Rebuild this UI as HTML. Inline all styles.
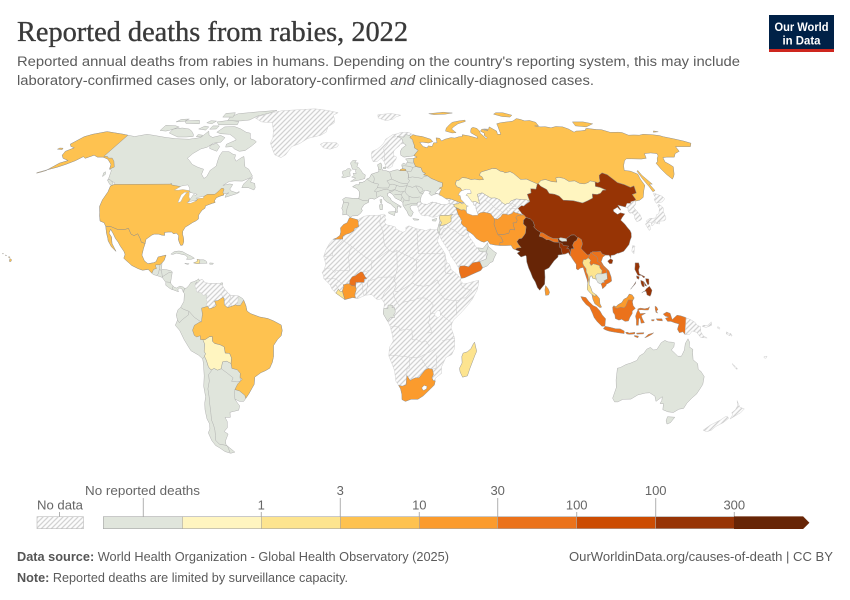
<!DOCTYPE html>
<html><head><meta charset="utf-8">
<style>
html,body{margin:0;padding:0;background:#fff;}
body{width:850px;height:600px;position:relative;overflow:hidden;}
svg{position:absolute;left:0;top:0;}
</style></head><body>
<svg id="m" width="850" height="600" viewBox="0 0 850 600" xmlns="http://www.w3.org/2000/svg">
<defs>
<pattern id="h" patternUnits="userSpaceOnUse" width="5" height="5">
<rect width="5" height="5" fill="#fcfcfc"/>
<path d="M-1,1L1,-1M0,5L5,0M4,6L6,4" stroke="#d2d2d2" stroke-width="1.3"/>
</pattern>
</defs>
<g id="g"></g>

<!-- Title & subtitle -->
<text x="17" y="41" font-family="Liberation Serif, serif" font-size="28" fill="#3a3a3a" stroke="#3a3a3a" stroke-width="0.35" textLength="391" lengthAdjust="spacingAndGlyphs">Reported deaths from rabies, 2022</text>
<text x="17" y="66" font-family="Liberation Sans, sans-serif" font-size="14.2" fill="#5b5b5b" textLength="723" lengthAdjust="spacingAndGlyphs">Reported annual deaths from rabies in humans. Depending on the country's reporting system, this may include</text>
<text x="17" y="85" font-family="Liberation Sans, sans-serif" font-size="14.2" fill="#5b5b5b" textLength="577" lengthAdjust="spacingAndGlyphs">laboratory-confirmed cases only, or laboratory-confirmed <tspan font-style="italic">and</tspan> clinically-diagnosed cases.</text>

<!-- Logo -->
<rect x="769" y="15" width="65" height="35" fill="#002147"/>
<rect x="769" y="49" width="65" height="3" fill="#ce261e"/>
<text x="801.5" y="31" text-anchor="middle" font-family="Liberation Sans, sans-serif" font-size="11.5" font-weight="bold" fill="#fff" textLength="54" lengthAdjust="spacingAndGlyphs">Our World</text>
<text x="801.5" y="44.5" text-anchor="middle" font-family="Liberation Sans, sans-serif" font-size="11.5" font-weight="bold" fill="#fff" textLength="38" lengthAdjust="spacingAndGlyphs">in Data</text>

<!-- Legend -->
<g font-family="Liberation Sans, sans-serif" font-size="13" fill="#666">
<text x="85" y="495" textLength="115" lengthAdjust="spacingAndGlyphs">No reported deaths</text>
<text x="37" y="509.3" textLength="46" lengthAdjust="spacingAndGlyphs">No data</text>
<text x="261.3" y="509.3" text-anchor="middle">1</text>
<text x="340.3" y="495" text-anchor="middle">3</text>
<text x="419.3" y="509.3" text-anchor="middle">10</text>
<text x="497.7" y="495" text-anchor="middle">30</text>
<text x="576.7" y="509.3" text-anchor="middle">100</text>
<text x="655.7" y="495" text-anchor="middle">100</text>
<text x="734.3" y="509.3" text-anchor="middle">300</text>
</g>
<g stroke="#b0b0b0" stroke-width="1">
<line x1="143.3" y1="498" x2="143.3" y2="516.7"/>
<line x1="59.5" y1="512" x2="59.5" y2="516.7"/>
<line x1="261.3" y1="512" x2="261.3" y2="516.7"/>
<line x1="340.3" y1="498" x2="340.3" y2="516.7"/>
<line x1="419.3" y1="512" x2="419.3" y2="516.7"/>
<line x1="497.7" y1="498" x2="497.7" y2="516.7"/>
<line x1="576.7" y1="512" x2="576.7" y2="516.7"/>
<line x1="655.7" y1="498" x2="655.7" y2="516.7"/>
<line x1="734.3" y1="512" x2="734.3" y2="516.7"/>
</g>
<rect x="37" y="516.7" width="46.5" height="12" fill="url(#h)" stroke="#bbb" stroke-width=".6"/>
<g stroke="#a5a5a5" stroke-width=".6">
<rect x="103.3" y="516.7" width="79" height="12" fill="#e0e5dc"/>
<rect x="182.3" y="516.7" width="79" height="12" fill="#fff5c0"/>
<rect x="261.3" y="516.7" width="79" height="12" fill="#fde48f"/>
<rect x="340.3" y="516.7" width="79" height="12" fill="#fec250"/>
<rect x="419.3" y="516.7" width="78.4" height="12" fill="#fb9b2d"/>
<rect x="497.7" y="516.7" width="79" height="12" fill="#eb721b"/>
<rect x="576.7" y="516.7" width="79" height="12" fill="#cc4c02"/>
<rect x="655.7" y="516.7" width="78.6" height="12" fill="#973405"/>
</g>
<path d="M734.3,516.7H803L809,522.7L803,528.7H734.3Z" fill="#672506" stroke="#672506" stroke-width=".6"/>

<!-- Footer -->
<text x="17" y="561" font-family="Liberation Sans, sans-serif" font-size="12.6" fill="#5b5b5b" textLength="432" lengthAdjust="spacingAndGlyphs"><tspan font-weight="bold" fill="#555">Data source:</tspan> World Health Organization - Global Health Observatory (2025)</text>
<text x="569" y="561" font-family="Liberation Sans, sans-serif" font-size="12.6" fill="#5b5b5b" textLength="264" lengthAdjust="spacingAndGlyphs">OurWorldinData.org/causes-of-death | CC BY</text>
<text x="17" y="582" font-family="Liberation Sans, sans-serif" font-size="12.6" fill="#5b5b5b" textLength="331" lengthAdjust="spacingAndGlyphs"><tspan font-weight="bold" fill="#555">Note:</tspan> Reported deaths are limited by surveillance capacity.</text>
</svg>

<script>
(function(){
const XT=[1,0.9986,0.9954,0.99,0.9822,0.973,0.96,0.9427,0.9216,0.8962,0.8679,0.835,0.7986,0.7597,0.7186,0.6732,0.6213,0.5722,0.5322];
const YT=[0,0.062,0.124,0.186,0.248,0.31,0.372,0.434,0.4958,0.5571,0.6176,0.6769,0.7346,0.7903,0.8435,0.8936,0.9394,0.9761,1];
function P(lon,lat){const a=Math.min(Math.abs(lat),89.999)/5,i=Math.floor(a),f=a-i;const X=XT[i]+(XT[i+1]-XT[i])*f,Y=YT[i]+(YT[i+1]-YT[i])*f;return [362+2.30*X*lon,311-(lat<0?-1:1)*209.5*Y];}
function D(s,close){const pts=s.trim().split(/\s+/).map(p=>p.split(',').map(Number));return 'M'+pts.map(p=>{const q=P(p[0],p[1]);return q[0].toFixed(1)+','+q[1].toFixed(1);}).join('L')+(close?'Z':'');}
const G=document.getElementById('g');const NS='http://www.w3.org/2000/svg';
function add(s,fill,stroke,sw){const e=document.createElementNS(NS,'path');e.setAttribute('d',D(s,true));e.setAttribute('fill',fill);e.setAttribute('stroke',stroke||'#aaa');e.setAttribute('stroke-width',sw||0.45);e.setAttribute('stroke-linejoin','round');G.appendChild(e);}
function line(s,stroke,sw){const e=document.createElementNS(NS,'path');e.setAttribute('d',D(s,false));e.setAttribute('fill','none');e.setAttribute('stroke',stroke||'#aaa');e.setAttribute('stroke-width',sw||0.45);e.setAttribute('stroke-linejoin','round');G.appendChild(e);}
const H='url(#h)',GR='#e0e5dc',C1='#fff5c0',C2='#fde48f',C3='#fec250',C4='#fb9b2d',C5='#eb721b',C7='#973405',C8='#672506',W='#ffffff';
const SH='#cdcdcd',SG='#a9a9a9',SC='#8c8c8c';

// North America base
add("-168,65.6 -166,68.9 -163,70 -156.8,71.3 -152,70.8 -145,70.1 -141,69.6 -136,69 -130,70 -125,69.5 -117,68.6 -110,68 -102,67.8 -96,68.5 -94.5,71.5 -92,69.5 -89,68.6 -85,69.5 -81.5,68.5 -82,66.5 -86,66 -88,64.2 -90.8,63.5 -93.5,61.5 -94.6,59.5 -93,58.7 -90,57 -86,55.8 -82.5,55 -82.2,53 -80,51.3 -79,52 -78.8,54.5 -76.8,56.3 -77.5,58.4 -78,60.5 -77.8,62.3 -74,62.3 -71,61.2 -69.5,61 -69,59.5 -67.5,58.3 -65.5,59.8 -64.5,60.3 -62.5,57.5 -61.5,56 -59,55 -57.3,53.5 -55.8,52.2 -57,51.4 -60,50.2 -64,50.3 -66.5,50.1 -69,48.5 -66,49.1 -64.3,48.9 -64.6,47.8 -65,47.1 -64,46.3 -61,45.6 -60,46.1 -59.9,45.7 -61,45.2 -63.5,44.5 -66,43.8 -65.9,45 -64.8,45.6 -67.1,45.1 -67,44.7 -68.5,44.3 -70,43.7 -70.6,42.6 -70,41.8 -71.2,41.5 -72,41.2 -73.8,40.6 -74,40.5 -74,39.5 -75,38.9 -75.5,38 -75.9,37.2 -76,36.8 -75.6,35.4 -76.5,34.7 -77.8,34.1 -79,33.3 -80.7,32.3 -81.4,30.7 -81.2,29.6 -80.5,28.3 -80,26.8 -80.2,25.4 -81,25.2 -81.8,26.2 -82.6,27.5 -82.8,29 -84,30 -85.3,29.7 -86.3,30.4 -88,30.4 -89.5,30.2 -89.2,29.1 -90.5,29.2 -92,29.6 -94,29.6 -95,29.2 -97.2,27.6 -97.2,26 -97.5,24 -97.7,21.5 -96.2,19.3 -94.5,18.2 -92,18.6 -91,19 -90.4,20.8 -87,21.5 -87.5,19.5 -88.3,18.5 -88.2,16 -86,15.9 -84,15.5 -83.3,15 -83.7,11 -83.4,10.4 -82,9.2 -81,8.8 -79.5,9.6 -78,9.2 -77.4,8.7 -77.9,7.2 -78.4,8.3 -79.5,8.9 -80.4,8.2 -80,7.4 -81,7.7 -82.5,8.2 -83.7,8.6 -85.7,9.9 -85.8,11 -87.5,12.9 -89.5,13.5 -91.5,14 -92.2,14.5 -94,16 -96.5,15.7 -98.5,16.3 -101.5,17.5 -105.5,20.3 -105.2,21.8 -106,23 -108,25 -109.4,26.5 -111,27.9 -112.8,30 -114.5,31.5 -114.6,30 -113,28.5 -112,26 -110.5,24.2 -109.5,23 -110.3,23.5 -112,24.8 -114,27 -114.5,28 -115.7,30 -117.1,32.5 -118.5,34 -120.6,34.6 -121.9,36.6 -122.5,37.8 -124,40.3 -124.4,42.8 -124,46 -124.6,48.3 -123,48.9 -123.5,49.5 -125,50 -128,51 -130,54.5 -131.5,55 -133,57 -136,58.5 -137.5,59.2 -141,60 -144,60 -147,60.8 -150,59.5 -152,60.2 -154,58.5 -157,57 -160,55.8 -163.5,54.8 -161,57.5 -158,58.6 -162,59.5 -164.5,60.8 -165.5,62.5 -163,64 -166,64.6",GR,SG);
// Canadian islands
["-61.5,66.6 -63,64.8 -65.5,62.8 -68.5,62.5 -72,63.5 -74,64.5 -77.5,64.3 -78,65.5 -74,67.5 -76,68.5 -80,70 -86,70.3 -89,71 -87,73.5 -81,73.7 -76,72.6 -71,71 -68,70.5 -67,69.2 -66,68 -63,67.3",
"-101,69 -105,68.8 -110,68.8 -115,70 -117.5,70.6 -118,72.5 -113,73 -108,72.5 -105,71.5 -102,70",
"-121,71.5 -125,71.8 -125.5,74.3 -119,74.1 -115.5,73.4 -119,72",
"-75,77 -80,76.5 -89,76.5 -90,78.5 -87,80.3 -75,81.5 -62,82.5 -65,81 -72,79",
"-80,74.5 -92,74.5 -95,76 -88,76.8 -81,76.2",
"-81,62.5 -86,63.7 -87,65 -84,66 -81,64.5",
"-97,72 -102,72.5 -100,73.9 -97,73.5",
"-91,72.5 -95,72.4 -95,74 -91,74",
"-105,75 -114,75.2 -117,76.5 -108,76.8",
"-88,78.5 -95,78.5 -96,80.5 -90,81",
"-97,75 -101,75.5 -100,76.6 -96,76.4",
"-117,76.3 -122,76 -121,77.3 -116,77.5",
"-96,68.8 -99,68.9 -99,69.9 -96,69.6",
"-59.3,47.6 -56,47.6 -53,46.7 -52.7,47.6 -53.5,49.3 -55.8,49.8 -55.5,51.6 -57,51.2 -59,49",
"-123.3,48.3 -125.5,48.9 -128.3,50.7 -127,50.8 -124.5,49.6",
"-132,52 -133,53.5 -132.5,54 -131.5,53"].forEach(s=>add(s,GR,SG));
// Greenland & Iceland
add("-73,78.3 -66,76 -58.5,75.5 -55,72 -53,68.5 -53,66 -50,63 -48,61 -44,59.8 -42,61 -40,64.5 -36,65.8 -32,68.2 -25,69.5 -22,71 -21.5,73.5 -18,75.5 -18.5,77.5 -20,79.5 -17,81 -25,82.5 -35,83.5 -45,83 -58,82.3 -65,80.8 -68,79.5 -72,78.7",H,SH);
add("-24,65.5 -22,64 -18,63.4 -14,64.4 -13.5,65.3 -15,66.3 -18,66.2 -22,66.4",H,SH);
// US, Alaska, Mexico
add("-123,48.9 -95.2,49 -95.2,49.4 -94.6,48.7 -89.5,48 -84.8,46.5 -84,46 -82.5,45.3 -82.4,43 -83,42 -82.5,41.7 -79,42.8 -79,43.4 -76.5,44.1 -75,45 -71.5,45 -71,45.3 -70,46.4 -69.2,47.4 -68.2,47.3 -67.8,47 -67.8,45.7 -67.1,45.1 -67,44.7 -68.5,44.3 -70,43.7 -70.6,42.6 -70,41.8 -71.2,41.5 -72,41.2 -73.8,40.6 -74,40.5 -74,39.5 -75,38.9 -75.5,38 -75.9,37.2 -76,36.8 -75.6,35.4 -76.5,34.7 -77.8,34.1 -79,33.3 -80.7,32.3 -81.4,30.7 -81.2,29.6 -80.5,28.3 -80,26.8 -80.2,25.4 -81,25.2 -81.8,26.2 -82.6,27.5 -82.8,29 -84,30 -85.3,29.7 -86.3,30.4 -88,30.4 -89.5,30.2 -89.2,29.1 -90.5,29.2 -92,29.6 -94,29.6 -95,29.2 -97.2,27.6 -97.2,26 -99,26.5 -100,28 -101.5,29.7 -103,29 -104.5,29.6 -106.5,31.8 -108.2,31.3 -111,31.3 -114.8,32.5 -117.1,32.5 -118.5,34 -120.6,34.6 -121.9,36.6 -122.5,37.8 -124,40.3 -124.4,42.8 -124,46 -124.6,48.3",C3,SC);
add("-141,69.6 -145,70.1 -152,70.8 -156.8,71.3 -163,70 -166,68.9 -168,65.6 -166,64.6 -163,64 -165.5,62.5 -164.5,60.8 -162,59.5 -158,58.6 -161,57.5 -163.5,54.8 -160,55.8 -157,57 -154,58.5 -152,60.2 -150,59.5 -147,60.8 -144,60 -141,60 -137.5,59.2 -136,58.5 -133,57 -131.5,55 -130,55.9 -133,58.3 -135.5,59.6 -137.5,59.6 -139,60.3 -141,60.3",C3,SC);
add("-163.5,54.8 -165.5,54.2 -167.5,53.6 -167.3,53.4 -165.3,53.9 -163.6,54.5",C3,SC);
add("-169,63.8 -168.5,63.2 -171.5,63.4 -171,63.9",C3,SC);
add("-155.9,20.2 -155,19.7 -155.2,19 -155.9,19.1",C3,SC);
add("-156.7,20.9 -156,20.8 -156.2,20.5 -156.6,20.6",C3,SC);
add("-158.3,21.6 -157.7,21.3 -158.1,21.3",C3,SC);
add("-159.8,22.2 -159.3,22.1 -159.5,21.9",C3,SC);
add("-117.1,32.5 -114.8,32.5 -111,31.3 -108.2,31.3 -106.5,31.8 -104.5,29.6 -103,29 -101.5,29.7 -100,28 -99,26.5 -97.2,26 -97.5,24 -97.7,21.5 -96.2,19.3 -94.5,18.2 -92,18.6 -91,19 -90.4,20.8 -87,21.5 -87.5,19.5 -88.3,18.5 -89.1,17.8 -91,17.8 -91,17.2 -90.4,16.4 -91.7,16 -92.2,14.5 -94,16 -96.5,15.7 -98.5,16.3 -101.5,17.5 -105.5,20.3 -105.2,21.8 -106,23 -108,25 -109.4,26.5 -111,27.9 -112.8,30 -114.5,31.5 -114.6,30 -113,28.5 -112,26 -110.5,24.2 -109.5,23 -110.3,23.5 -112,24.8 -114,27 -114.5,28 -115.7,30",C3,SC);
// Great lakes
["-92,46.7 -90,46.6 -88,46.9 -85,46.5 -84.5,46.6 -85,47.5 -86.5,48.7 -89.3,48.3 -90.5,47.6",
"-87.8,42.3 -87.5,41.7 -86.5,42.2 -86.3,43.8 -85.5,45.5 -85,45.8 -86.5,45.8 -87.6,44.8",
"-84.5,45.9 -82.5,45.5 -80,45 -80.5,44.6 -81.7,44.9 -82.5,43 -83.5,44 -84,45.4",
"-83.4,41.7 -81.5,41.5 -79,42.6 -80.5,42.6 -83,42",
"-79.8,43.3 -76.3,43.5 -76.5,44.2 -79.5,43.7"].forEach(s=>add(s,W,SG,0.4));
// Central America borders
line("-88.3,18.5 -89.1,17.8 -89.2,15.9 -88.2,15.7","#aaa");
line("-89.2,15.9 -89.3,14.4 -90.1,13.7","#aaa");
line("-88.2,15.7 -87.7,13.9 -87.5,12.9","#aaa");
line("-83.3,15 -84.8,14.8 -87.5,13.2","#aaa");
line("-83.7,11 -85.7,11.2","#aaa");
line("-82.5,9.6 -82.9,8.1","#aaa");
// Caribbean
add("-84.9,21.9 -83.5,22.9 -81.5,23.1 -80,22.9 -77.5,21.8 -75.7,21.1 -74.2,20.3 -75.7,19.9 -77.7,19.9 -77.2,20.6 -78.5,21.5 -81,22 -82.5,22.3 -84,21.8",GR,SG);
add("-78.3,18.4 -76.3,18.2 -76.8,17.9 -78,18.2",GR,SG);
add("-74.4,18.5 -72.7,18.2 -71.7,18.3 -71.7,19.7 -73,19.9 -72.8,19.1",C2,SC);
add("-71.7,18.3 -68.4,18.4 -68.9,19.2 -70,19.7 -71.7,19.7",GR,SG);
add("-67.2,18.5 -65.6,18.4 -65.8,18 -67.2,18",GR,SG);
add("-61.7,10.8 -60.9,10.8 -61,10.1 -61.9,10.1",GR,SG);
// South America
add("-77.4,8.7 -76.5,8.9 -75.6,9.8 -74.8,11 -73.5,11.3 -72.2,11.9 -71.5,12.4 -71.2,11.7 -70,12.2 -68.5,10.8 -66,10.6 -64,10.6 -62.5,10.7 -61,9.8 -60,8.5 -58.5,7 -57.2,6 -55,5.9 -53.9,5.8 -52,4.8 -51.5,4.2 -50.5,2 -50,0 -48.5,-1 -44.5,-2.3 -41,-2.9 -38.5,-3.8 -35.2,-5.4 -34.8,-7.5 -35.3,-9.5 -37,-11 -38.8,-13.3 -39,-17.5 -39.7,-19.8 -41,-22 -43,-23 -45,-23.7 -48,-25.5 -48.6,-28.2 -50,-30 -51.5,-31.8 -53.4,-33.7 -54.5,-34.8 -56.5,-34.8 -58.4,-33.9 -57.5,-35.5 -56.8,-36.5 -57.7,-38.2 -62,-39 -62.5,-41 -65,-41 -64.5,-42.5 -65.3,-45 -67.5,-46.5 -66,-47.5 -68.5,-50.2 -69,-51.6 -68.4,-52.4 -66,-54.7 -68.5,-55.2 -71,-54.5 -73,-53 -74.5,-52 -75.3,-50 -75.5,-47 -74,-45.5 -73.3,-43.5 -73.8,-41.5 -73.4,-38 -72.7,-35.5 -71.6,-33 -71.5,-29 -70.5,-25 -70.2,-20 -70.4,-18.4 -72,-17 -75.2,-15.3 -76.3,-13.5 -77.8,-11 -79.5,-7.5 -81.3,-5.5 -80.3,-3.5 -80.8,-1.5 -80,0.5 -78.9,1.4 -77.5,3.7 -77.4,6.7 -77.9,7.2",GR,SG);
add("-72.3,11.2 -71.5,11 -71.2,11.7 -70,12.2 -68.5,10.8 -66,10.6 -64,10.6 -62.5,10.7 -61,9.8 -60,8.5 -60.7,7.5 -61.2,6.6 -60.7,5.2 -62.8,4 -64.2,3.8 -63.4,2.2 -64.2,1.5 -66.3,0.8 -67.2,1.8 -67.8,2.8 -67.3,3.3 -67.8,4.5 -67.5,6.2 -69.3,6.1 -70.1,7 -72,7.3 -72.4,8.4 -73,9.7 -72.8,10.4",H,SH);
add("-60,8.5 -58.5,7 -57.2,6 -57.3,5 -58,4 -56.5,1.9 -58.5,1.3 -59.9,2.4 -60.1,5 -60.7,5.2 -61.2,6.6 -60.7,7.5",H,SH);
add("-57.2,6 -55,5.9 -53.9,5.8 -54.1,2.1 -55,2.4 -56.5,1.9 -58,4 -57.3,5",H,SH);
add("-51.5,4.2 -50.5,2 -50,0 -48.5,-1 -44.5,-2.3 -41,-2.9 -38.5,-3.8 -35.2,-5.4 -34.8,-7.5 -35.3,-9.5 -37,-11 -38.8,-13.3 -39,-17.5 -39.7,-19.8 -41,-22 -43,-23 -45,-23.7 -48,-25.5 -48.6,-28.2 -50,-30 -51.5,-31.8 -53.4,-33.7 -53.5,-32.5 -55.6,-30.8 -57.6,-30.2 -56,-28.1 -54.6,-27 -53.7,-26.2 -54.6,-25.6 -54.3,-24 -55.5,-22.6 -57.8,-22.1 -58,-20.2 -57.6,-18.1 -58.3,-16.3 -60.2,-16.2 -60.5,-13.8 -62.2,-13 -64.5,-12.5 -65.4,-11.7 -65.4,-9.8 -66.6,-9.9 -68.7,-11.1 -70.6,-11 -70.6,-9.5 -72.2,-10 -73.2,-9.4 -73.9,-7.4 -73,-5.5 -70.5,-4.2 -69.9,-4.2 -69.4,-1.2 -69.8,1.1 -67.2,1.8 -66.3,0.8 -64.2,1.5 -63.4,2.2 -64.2,3.8 -62.8,4 -60.7,5.2 -60.1,5 -59.9,2.4 -58.5,1.3 -56.5,1.9 -55,2.4 -54.1,2.1 -52.9,2.2",C3,SC);
add("-69.6,-11 -68.7,-11.1 -66.6,-9.9 -65.4,-9.8 -65.4,-11.7 -64.5,-12.5 -62.2,-13 -60.5,-13.8 -60.2,-16.2 -58.3,-16.3 -57.6,-18.1 -58,-20.2 -59.9,-19.3 -61.7,-19.6 -62.6,-22.2 -64.3,-22.8 -65.7,-22.1 -67.2,-22.7 -68.2,-21.5 -68.7,-19.4 -69.1,-18.2 -69.5,-17.5 -68.9,-16.4 -69.4,-15.6 -68.9,-12.9",C1,SC);
["-69.9,-4.2 -70.7,-3.8 -73,-2.4 -75.2,-0.1 -77.5,0.6 -78.9,1.4",
"-75.2,-0.1 -75.5,-1.5 -78.3,-3.4 -79.5,-4.5 -80.3,-3.5",
"-70.4,-18.4 -69.5,-17.5",
"-68.2,-21.5 -67,-23 -68.5,-24.5 -68.6,-27 -69.8,-30 -70,-33 -70.5,-36 -71,-39 -71.8,-42 -71.6,-44 -71.8,-46 -72.5,-48 -73.3,-50 -72.3,-51.5 -69,-52 -68.6,-52.6 -68.6,-54.9",
"-54.6,-25.6 -54.6,-27 -56,-27.3 -58.6,-27.1 -57.7,-25.7 -60,-24 -62.6,-22.2",
"-58.4,-33.9 -58.1,-32 -57.6,-30.2",
"-72.3,11.2 -72.8,10.4",
"-52.9,2.2 -51.5,4.2"].forEach(s=>line(s,SG));

// Africa
add("-5.9,35.8 -2,35.1 1,36.5 3.5,36.8 8,36.9 10.2,37.3 11,36.8 10.5,36 11.1,35.2 10.2,34.2 11.5,33.1 13,32.9 15.3,32.3 15.6,31.5 18.5,30.3 20,30.9 20,32.2 21.5,32.8 23.2,32.2 25.2,31.6 27.5,31.3 29,30.9 31,31.6 32.3,31.3 34.2,31.3 34.9,29.5 34.3,27.8 33.8,27.2 34.5,25.5 35.7,23.9 36.9,22 37.4,18.8 38.6,18 39.3,15.8 41.2,14.5 43.3,12.5 43.1,11.5 44.5,10.4 46.6,10.8 48.9,11.4 51.1,11.8 51,10.5 50.2,8 48,4.5 46,2.2 43.5,-0.3 41.8,-1.8 40,-3.3 39.2,-4.7 38.8,-6.5 39.5,-8 40.5,-10.5 40.6,-14.5 39.5,-16.8 37,-17.9 35.3,-21.5 35.5,-24 32.9,-25.9 32.6,-28.5 31,-30 28,-32.7 25.7,-34 22.5,-34 20,-34.8 18.4,-34.1 18.2,-32.2 17.5,-30 16.4,-28.5 15.2,-27 14.5,-23 13.6,-21 11.8,-17.3 12,-14 13.7,-11.5 13.2,-9 12.3,-6.1 12.2,-5.8 11.1,-3.9 9.3,-1.2 9.5,1 9.8,3 9,4 8.5,4.7 6.7,4.3 5.3,5.4 4.3,6.3 1.5,6.1 -2,4.7 -4,5.2 -7.5,4.4 -9.2,5.5 -11.4,6.9 -13.2,8.5 -13.7,9.8 -15,11 -16.7,12.4 -16.9,13.8 -17.5,14.7 -16.5,16.2 -16,18 -16.5,19.6 -17,21 -16,23.7 -14.5,26.1 -13,27.6 -11.5,28.1 -10,29.1 -9.6,30.4 -9.8,32 -8.5,33.3 -6.8,34",H,SH);
["8.6,36.9 8.2,34 9.5,30.2 10,25.5 12,23.5",
"25,31.6 25,22 36.9,22",
"12,23.5 14,22.5 15.5,23.3 24,19.5 25,20",
"-8.7,27.7 -8.7,27.3 -4.8,25 1,21 4.3,19.2 5.8,19.5 12,23.5",
"-17,21 -13,21.3 -13,23 -8.7,27.3",
"-12,14.8 -11.5,15.5 -5.5,15.5 -5.5,16.5 -6,21 -4.8,25",
"-16.5,16.2 -14,16.6 -12,14.8",
"4.3,19.2 4,16 1,15 0.3,14.9",
"3.6,11.7 8,13 12.5,13.1 14.5,13 15.5,16 15.5,20.5 15.5,23.3",
"22,12.5 22.5,14 24,15.7 24,19.5",
"14.5,13 14,12 15,10 13.5,7 14.5,4.5 16,2.2",
"23.5,10 27,9.5 30,10 33,12 34,9.5",
"14.5,7.5 16,7.6 19,9 22,10.8 23.5,10",
"16,2.2 18.5,3.5 22.5,4.2 25,5 27.5,5 30,3.5 31,2.3",
"12.5,-6 16,-6 16.5,-7.5 19.5,-7 21.8,-7.3 22,-11 24,-11 26,-12 28,-11.5 29.5,-13.5",
"29,-4.5 29.6,-1.3 30,1 31,2.3",
"28.5,-8.5 30.5,-8.2 29,-4.5",
"39.2,-4.7 37.5,-3.5 33.9,-1 30,-1",
"33,8 36,4.5 40,4 41.9,4 43,5 45,5 47.9,8 44,9 43,11",
"36.9,22 36.5,15 37,14.3 38.5,14.5 40,14.6",
"41,-1.6 41,3.9",
"11.8,-17.3 13.5,-17 18.5,-17.5 23.5,-18 25.3,-17.8",
"20,-22 20,-24.8",
"21,-18 21,-22 20,-22",
"25.3,-17.8 28,-16.5 30.2,-15.6 33,-14 35,-12",
"26,-18 29,-22",
"33,-17 32.9,-22 31.3,-22.4",
"35,-11.5 40.5,-10.5",
"8.6,4.7 9.8,7 11.8,8.9 13,10.8 14.5,13",
"0,11 0.6,6.1","1.8,6.2 2.7,12 3.6,11.7",
"-11.5,12.4 -8,10.1","-13.7,9.8 -11.5,12.4 -16.7,12.4",
"-2.7,11 -5.5,10.4 -8.2,10.1",
"-11.4,6.9 -10.3,8.4 -11.3,10 -13.2,8.5"].forEach(s=>line(s,SH,0.5));
add("31.7,-1 33,0.3 34.1,-0.2 34,-1.9 33,-2.6 31.7,-1.8",W,SH);
add("-5.9,35.8 -5.3,35.9 -2,35.1 -1.8,34.5 -1.5,32.5 -3.5,31.7 -3.7,30.9 -5.5,30 -7.5,29.4 -8.7,28.7 -8.7,27.7 -13,27.6 -11.5,28.1 -10,29.1 -9.6,30.4 -9.8,32 -8.5,33.3 -6.8,34",C4,SC);
add("-5.5,10.4 -4.5,9.7 -2.8,9.6 -2.7,11 0,11 0.9,11 1,12.3 2.2,12.6 1.5,13 0.3,14.9 -0.5,15.1 -2,14.2 -3,13.5 -4.3,13.2 -5.3,11.8",C5,SC);
add("-8.6,7.7 -7.5,4.4 -4,5.2 -2.8,5 -3.2,6.2 -2.5,8.2 -2.8,9.6 -4.5,9.7 -5.5,10.4 -6.2,10.5 -7.5,10.2 -8.2,10.1 -8,9.4",C4,SC);
add("-11.4,6.9 -9.2,5.5 -7.5,4.4 -8.6,7.7 -9.4,7.4 -10.3,8.4",C2,SC);
add("9.5,1 11.3,1 11.3,2.3 13.3,2.2 13,1.3 14.2,1.3 14.5,-0.5 13.8,-1.5 14.2,-2.5 12.5,-2.4 11.1,-3.9 9.3,-1.2 9.3,0",GR,SG);
add("16.5,-28.6 17.5,-30 18.2,-32.2 18.4,-34.1 20,-34.8 22.5,-34 25.7,-34 28,-32.7 31,-30 32.6,-28.5 32.9,-26.9 32,-26.8 31.3,-25.7 31.9,-24.4 31.3,-22.4 29.4,-22.1 28,-22.8 26.5,-24.6 25.5,-25.7 24,-25.7 22.6,-26.2 21.7,-26.8 20,-24.8 19.9,-28.4 18.2,-28.9 17.4,-28.8",C4,SC);
add("27,-29.6 28,-28.6 29.4,-29 29.2,-30 28,-30.6 27.4,-30.2",W,SC);
add("49.3,-12 50.4,-15.5 49.8,-17 49.4,-18 48,-22 47.1,-25 45,-25.5 43.7,-23.5 43.3,-22 44.3,-20 44,-17.5 44.5,-16.2 46.3,-15.7 47.8,-14.5 48.8,-12.6",C2,SC);

// Eurasia base (hatched)
add("-9,37 -8.9,38.5 -9.5,39.5 -8.8,42 -9.3,43 -8,43.7 -4,43.4 -1.5,43.4 -1.3,44.5 -1.2,46 -2.5,47.3 -4.7,48 -3,48.8 -1.5,48.7 -1.3,49.7 0.2,49.7 1.5,50.2 2.5,51.1 3.8,51.5 4.8,53 6.8,53.5 8.8,54 8.6,55.5 8.2,56.8 10,57.6 10.5,56.5 10.2,55.5 10.9,54.4 12.5,54.4 14.3,53.9 16.5,54.5 18.5,54.8 19.8,54.4 21.2,55.2 21,56.8 22,57.5 23.5,57 24.4,58.3 23.5,59.2 26,59.5 28,59.5 30,60 28.5,60.6 25,60.2 22.8,60 21.3,60.8 21.5,62.5 22.5,63.7 25.3,65.1 24.2,65.8 22.2,65.6 21.2,64.7 19,63.5 17.8,62.6 17.2,61.3 17.5,60.6 18.8,60 18.3,59 16.6,57.6 16,56.2 14.2,55.4 12.9,55.5 12.5,56.3 11.8,58 11,59 10.5,59.5 9.5,59 8,58.1 6,58.1 5.3,59.3 5,61 5.6,62.4 8.5,63.4 10.5,64.5 12.5,66 14,67.8 16,68.7 18.5,69.8 21,70.2 23.5,70.8 26,71 28.5,70.9 30.5,70 33,69.3 36,69 40.5,67.8 41.2,66.7 38.5,66.1 35,66.5 33.5,66.3 34.8,64.5 37,64 37.8,64.8 40,64.6 41.5,66.2 43.5,66.2 44,68.4 46,68.2 46.5,67 49,67.8 53,68.5 55,68.3 58,68.9 60,69 60.5,69.8 64,69.3 67,68.6 68.5,68.2 69,69 66.5,70.7 67,71.5 68.5,72.8 70,73.3 72,72.8 72.5,71.5 72,70.5 73,69 73.5,68 74.5,68.5 73.5,69.5 74.5,70.5 73,71.5 75,72.5 76.5,71.8 78,71.8 76,72.5 79,72.4 80.5,73.5 83,71.5 82,70 84,70 86.5,74 87,75 90,75.5 95,76 99,76.3 101,76.8 104,77.7 106,77.3 107.5,76.5 111,76.7 113.5,75.8 112.5,74 110,74 113,73.5 116,73.6 119,73.1 123,73.7 127,73.5 129,72.5 130,71 132,71.5 135,71.6 139,72 139.5,72.5 141,72.8 146,72.3 149,72.2 152,70.9 157,71 159,70.8 160.5,69.6 164,69.7 167,69.6 170,70 175,69.8 178.8,69.4 180,68.9 184,68 188,67 190.3,66 187,64.5 182,64.5 178.5,64.5 177,62.5 173,61.5 170,60 166,60 163.5,59.8 162,58 163,57 163.5,56 162,54.8 160,53 158.5,52 156.7,51 156,53 155.8,55 156.5,57.5 158,58 160,59.5 162,60.5 163,61.5 160,61.8 156,61.5 154,59.5 151,59.2 146,59.3 143,59.3 141,58.5 138,56.5 136,54.5 139,54.2 141.4,53 140.5,51 140.3,48.5 138,46.5 135.5,43.8 133,42.7 131.5,42.5 130.7,42.3 129.7,41 128,40 129.4,37 129.3,35.5 128.5,35 126.5,34.4 126.2,35.5 126.8,37 126.1,37.8 125,37.7 124.7,38.5 125.3,39.5 124.4,40 122.3,40.5 121.2,40.8 121.5,39 121.2,38.8 120.5,40 119.5,39.6 118,39 117.8,38.3 119,37.2 120.7,37.8 122.5,37.4 120.5,36 119.3,35 120.5,33.5 121.2,32 121.8,31 121.9,30 121.5,28.5 120.5,27.2 119.5,25.6 118.2,24.5 116.5,23 114.2,22.3 113.5,22.2 112,21.6 110.5,21.4 110.2,20.3 109.7,21.5 108,21.5 106.7,20.7 105.7,19 106.5,17.5 108.5,15.5 109.2,13 109.2,11.5 108,10.8 106.8,10.3 106.5,9.7 105,8.6 104.8,9.5 104.5,10.4 103.5,10.6 102.6,12.2 100.9,12.7 100.9,13.5 100,13.4 99.2,10.3 99.8,9.2 100.4,7.3 101,6.9 102.2,6.2 103.4,4.8 103.5,2.8 104.2,1.5 103.5,1.3 101.3,2.8 100.5,4.5 100.2,6.4 99.6,6.8 98.3,8.2 98.5,9.9 98.7,10.7 98.6,12 98.3,13 97.8,14.9 97.4,16.8 96,16.5 95,15.8 94.3,16.3 94.5,18 93.5,19.5 92.6,20.7 92.3,21.4 91.8,22.5 90.5,22 89,21.8 87,21.5 86.9,20.8 85,19.4 82.3,16.6 80.3,15.8 80.2,13 79.8,10.3 78.4,8.9 77.5,8 76.6,9 75.8,11.2 74.8,12.8 74,15 73.4,16.5 72.8,19 72.9,21 72.6,21.4 70.5,20.8 69,22.3 70.3,22.9 68.4,23.6 67.4,24 66.7,25.3 64.5,25.2 61.6,25.2 59.5,25.4 57.3,25.8 56.4,27.1 54.8,26.5 53.5,26.8 51.5,27.9 50.3,29.3 48.9,30.3 48,29.9 48.4,28.5 49.5,27 50.2,26 50.8,24.7 51.6,24.3 52.5,24.2 54,24.1 55.5,25.5 56.3,26.3 56.4,24.9 57.8,23.7 58.8,22.9 59.8,22.3 58.5,20.4 57.8,19 56.6,18.6 55.3,17.4 53,16.6 52.2,15.6 49.5,14.6 48,14 45,12.8 43.5,12.6 42.8,14.8 42.7,16.3 41.2,18.8 39.5,21 38.9,22.8 37.5,24.8 35.7,27.5 34.9,29.5 34.3,31.3 35,32.8 35.9,35 35.9,35.9 36.2,36.6 35.5,36.6 34,36.2 32.5,36.1 30.6,36.7 29,36.6 27.5,37 26.5,38.5 26.6,39.5 26.2,40 26.1,40.8 24,40.8 23,40.4 22.6,40 23,39 24,38 23,36.5 22.3,36.5 21.7,36.9 21.1,38.3 20.2,39.5 19.4,40.7 19.5,41.8 18.5,42.5 16,43.5 14.8,45 13.6,45.7 12.3,45.3 12.5,44.2 13.6,43.5 14,42.6 16,41.5 18.5,40.2 18.3,39.8 17,40.5 16.5,39 16.6,38 15.7,38 15.8,39.5 14.8,40.2 13.7,41.2 12,41.9 10.5,43 10.2,43.9 8.8,44.4 7.5,43.8 6,43.1 4.5,43.4 3.1,43.1 3.2,41.9 1,41 0,39.8 -0.3,39.3 0.2,38.7 -0.7,37.6 -2.1,36.7 -4.5,36.6 -5.6,36 -6.3,36.8 -7.4,37.2",H,SH);
// Europe (grey)
add("28.1,59.5 27.6,58 27.8,57.3 28.2,56.1 30.9,55.6 31.3,53.9 32.7,53.3 31.5,52.8 33.5,52.3 35,51.3 37.5,50.4 38.3,50 40.1,49.6 39.7,48 38.2,47.5 38.2,47.1 37,46.5 35.5,45.5 36.5,45.3 35.3,45 33.5,44.5 32.5,45.4 33.6,46 31.7,46.5 30.8,46.6 29.7,45.3 28.7,44.4 27.9,42.7 28,41.9 27,42 26.3,41.7 26.1,40.8 24,40.8 23,40.4 22.6,40 23,39 24,38 23,36.5 22.3,36.5 21.7,36.9 21.1,38.3 20.2,39.5 19.4,40.7 19.5,41.8 18.5,42.5 16,43.5 14.8,45 13.6,45.7 12.3,45.3 12.5,44.2 13.6,43.5 14,42.6 16,41.5 18.5,40.2 18.3,39.8 17,40.5 16.5,39 16.6,38 15.7,38 15.8,39.5 14.8,40.2 13.7,41.2 12,41.9 10.5,43 10.2,43.9 8.8,44.4 7.5,43.8 6,43.1 4.5,43.4 3.1,43.1 3.2,41.9 1,41 0,39.8 -0.3,39.3 0.2,38.7 -0.7,37.6 -2.1,36.7 -4.5,36.6 -5.6,36 -6.3,36.8 -7.4,37.2 -9,37 -8.9,38.5 -9.5,39.5 -8.8,42 -9.3,43 -8,43.7 -4,43.4 -1.5,43.4 -1.3,44.5 -1.2,46 -2.5,47.3 -4.7,48 -3,48.8 -1.5,48.7 -1.3,49.7 0.2,49.7 1.5,50.2 2.5,51.1 3.8,51.5 4.8,53 6.8,53.5 8.8,54 8.6,55.5 8.2,56.8 10,57.6 10.5,56.5 10.2,55.5 10.9,54.4 12.5,54.4 14.3,53.9 16.5,54.5 18.5,54.8 19.8,54.4 21.2,55.2 21,56.8 22,57.5 23.5,57 24.4,58.3 23.5,59.2 26,59.5",GR,SG);
add("28,60.5 25,60.2 22.8,60 21.3,60.8 21.5,62.5 22.5,63.7 25.3,65.1 24.2,65.8 23.8,66.5 23.6,68 21,69.1 25,68.7 26.5,69.9 28.5,69.5 29,69 28.5,68.5 29.8,67.5 29.7,66.5 30,65 29.7,64 31.5,62.9 29.5,61.5",GR,SG);
add("-5.7,50.05 -3.5,50.3 -1,50.7 1.4,51.2 1.7,52.7 0.3,53.4 -0.2,54.2 -1.6,55.6 -2.7,56 -2,57.6 -3.9,57.6 -3,58.6 -5,58.6 -6.2,57.5 -5.6,56.3 -5,55 -3,54.9 -3.4,54.3 -3,53.3 -4.6,53.3 -4,52.5 -5.3,51.8 -3.2,51.4",GR,SG);
add("-6,52.2 -6.3,54 -5.5,54.6 -6.2,55.2 -7.5,55.2 -8.5,54.5 -10,54.2 -10,53.3 -9.5,52.5 -10.4,51.8 -9.5,51.5 -8,51.8",GR,SG);
["8.6,42.9 9.5,43 9.4,41.4 8.8,41.6","8.4,41 9.8,41 9.6,39 8.5,39 8.2,40.5","12.4,38.1 15.6,38.3 15.1,36.7 12.5,37.6","23.5,35.6 26.3,35.3 26,35 24,35","32.3,35.1 34.6,35.7 34,34.6 32.5,34.7","11,55.7 12.5,56 12.3,55.2 11.2,55.2"].forEach(s=>add(s,GR,SG));
// Europe borders
["-1.8,43.4 0,42.7 3.2,42.4","-8.9,42 -6.2,41.6 -7,39.6 -7.4,37.2","2.5,51.1 4.2,50 5.8,49.5 8.2,49 7.6,47.6 6,46.2 7,45.9 7,44.2 7.5,43.8","4.8,53 6,52 6.2,51 5.8,49.5","8.6,54.9 10,54.8",
"14.3,53.9 14.6,52.5 15,51 12.5,50.3 13.8,48.8 13,47.5 10,47.5 7.6,47.6","7,45.9 10.5,46.8 12.2,47 13.7,46.5 13.6,45.7",
"15,51 19,49.5 22.6,49.1 24,50.5 23.2,51 23.8,52.7 23.5,54 22.8,54.4","13.8,48.8 15,49 17,48.6 16.9,48","16.9,48 16.1,46.8 13.7,46.5","17,48.6 19,48 22.2,48.4 22.6,49.1",
"22.2,48.4 21,46.3 20.3,46.1 18.8,45.9 16.1,46.8","22.2,48.4 24.9,47.7 26.6,48.3 28.2,45.5 29.7,45.3","26.6,48.3 28,48.2 29.5,47.5 30,46.4 28.2,45.5",
"22.7,44.2 25,43.6 27.9,44","21,46.3 21.5,45.2 22.7,44.2","13.6,45.7 15.5,46.5 16.1,46.8","15.7,45 19,44.9 19.4,44 18.5,42.5","19,44.9 20.3,46.1","19.4,44 20.2,42.8 19.5,41.8","20.2,42.8 22.5,42.4 22.7,44.2",
"20.2,40.8 21,40.8 23,41.3 26.1,41.3 26.3,41.7","21,56.3 22.5,56.4 25,56.2 26.6,55.7 28.2,56.1","24.3,57.9 25.5,57.6 27.4,57.5","22.8,54.4 23.5,54 25.5,54.2 26.6,55.7",
"23.6,51.5 25.5,51.9 28,51.6 30.5,51.3 31.5,52.1 33.5,52.3","23.5,54 23.8,52.7 23.6,51.5"].forEach(s=>line(s,SG,0.45));
line("12,58.9 12.5,61 12.2,63.5 14,65 15.5,66.5 18,68.5 20.5,69",SH,0.5);
// Russia
add("30.8,69.8 33,69.3 36,69 40.5,67.8 41.2,66.7 38.5,66.1 35,66.5 33.5,66.3 34.8,64.5 37,64 37.8,64.8 40,64.6 41.5,66.2 43.5,66.2 44,68.4 46,68.2 46.5,67 49,67.8 53,68.5 55,68.3 58,68.9 60,69 60.5,69.8 64,69.3 67,68.6 68.5,68.2 69,69 66.5,70.7 67,71.5 68.5,72.8 70,73.3 72,72.8 72.5,71.5 72,70.5 73,69 73.5,68 74.5,68.5 73.5,69.5 74.5,70.5 73,71.5 75,72.5 76.5,71.8 78,71.8 76,72.5 79,72.4 80.5,73.5 83,71.5 82,70 84,70 86.5,74 87,75 90,75.5 95,76 99,76.3 101,76.8 104,77.7 106,77.3 107.5,76.5 111,76.7 113.5,75.8 112.5,74 110,74 113,73.5 116,73.6 119,73.1 123,73.7 127,73.5 129,72.5 130,71 132,71.5 135,71.6 139,72 139.5,72.5 141,72.8 146,72.3 149,72.2 152,70.9 157,71 159,70.8 160.5,69.6 164,69.7 167,69.6 170,70 175,69.8 178.8,69.4 180,68.9 184,68 188,67 190.3,66 187,64.5 182,64.5 178.5,64.5 177,62.5 173,61.5 170,60 166,60 163.5,59.8 162,58 163,57 163.5,56 162,54.8 160,53 158.5,52 156.7,51 156,53 155.8,55 156.5,57.5 158,58 160,59.5 162,60.5 163,61.5 160,61.8 156,61.5 154,59.5 151,59.2 146,59.3 143,59.3 141,58.5 138,56.5 136,54.5 139,54.2 141.4,53 140.5,51 140.3,48.5 138,46.5 135.5,43.8 133,42.7 131.5,42.5 130.7,42.3 130.6,42.5 131.3,43 131,44.9 133.5,45.5 134.7,48.3 132.5,47.7 130.5,48.8 127.6,49.6 127,50.5 125.5,52.8 123.5,53.5 121.2,52.6 120.2,51.4 119.3,50.1 117.8,49.5 116.7,49.9 114.5,50.3 113,49.6 110.7,49.1 108.5,49.3 106.8,50.3 103.7,50.1 102.2,51.3 100,51.7 98.2,51.5 97.5,49.8 95,50 92.5,50.8 90,50.5 87.8,49.2 87.3,49.1 85,50.1 83,51 80,50.9 77.8,53.3 76.5,54 73.5,53.5 73,54 71.5,54.2 70,55.2 68,55.3 65,54.6 62,54 61,53.6 60,52.5 61,52 61.3,50.8 59,50.7 57,51 55,50.8 53,51.4 50.8,51.6 48.7,50.5 47.5,50.5 46.5,49 47,48 48.5,47.5 49,46.4 48.5,46.3 47.5,45.6 46.7,44.7 47.5,44.5 47.5,43 48.6,41.8 46.6,41.9 46,42 44,42.7 42.5,43.2 41.6,43.3 40,43.4 38.5,44.3 37.5,44.7 38.2,46.2 39.2,47.2 38.2,47.1 38.2,47.5 39.7,48 40.1,49.6 38.3,50 37.5,50.4 35,51.3 33.5,52.3 31.5,52.8 32.7,53.3 31.3,53.9 30.9,55.6 28.2,56.1 27.8,57.3 27.6,58 28.1,59.5 30,60 28.5,60.6 29.5,61.5 31.5,62.9 29.7,64 30,65 29.7,66.5 29.8,67.5 28.5,68.5 29,69",C3,SC);
["19.6,54.4 22.8,54.4 22.7,55 21.2,55.2 20,54.9","51.5,71.5 53,73 56,74.5 59,75.8 64,76.5 68.5,76.9 68,76.2 62,75 58,73.5 56,72.5 57.5,70.8 55,70.6","92,80 95,81 100,81 104,79.5 101,78.5 96,78.8","47,80.3 52,80.8 58,81.3 64,80.8 58,80 50,79.8","136,74 142,73.5 149,75 145,76 138,76","178.5,71 182,71.2 180,71.6","142,46 143.5,46.5 143,49 144.5,49 143,52.5 143,54.5 142.3,54.2 141.7,51 142,48"].forEach(s=>add(s,C3,SC));
add("11,78 16,76.6 21,77.5 23,78.5 27,79.5 20,80.5 11,79.7",H,SH);
// Central Asia
add("49,46.4 48.5,47.5 47,48 46.5,49 47.5,50.5 48.7,50.5 50.8,51.6 53,51.4 55,50.8 57,51 59,50.7 61.3,50.8 61,52 60,52.5 61,53.6 62,54 65,54.6 68,55.3 70,55.2 71.5,54.2 73,54 73.5,53.5 76.5,54 77.8,53.3 80,50.9 83,51 85,50.1 87.3,49.1 85.5,47 83,47.2 82.3,45.5 80.2,45 80.2,42.2 79,42.8 76,43 74,43.2 71,42.3 70,41.5 69,41.4 68,41 66.5,41.9 66,42.9 64,43.6 62,43.5 58.5,45.6 56,45 55.9,41.3 54,42.3 52.9,42 52.5,42 51,44.5 50.3,44.6 51.3,45.3 53,45.3 53.2,46.3 52,46.8 51.2,47",C1,SC);
add("87.8,49.2 90,50.5 92.5,50.8 95,50 97.5,49.8 98.2,51.5 100,51.7 102.2,51.3 103.7,50.1 106.8,50.3 108.5,49.3 110.7,49.1 113,49.6 114.5,50.3 116.7,49.9 115.5,48.1 117.5,47.7 119.7,46.7 118,46.6 116,45.4 114,44.9 111.8,45.1 111,43.5 108,42.5 105,41.6 101,42.5 96.4,42.7 95.3,44.3 93.5,45 91,45.3 90.7,46.9 88.5,48.1",C1,SC);
["56,41.3 58.6,42.7 60,42.2 61.2,41.2 62.5,39.8 64.4,38.9 66.5,37.4","67.8,37.2 68.4,38.2 67.6,39.5 69,40.2 70.6,40.9 71.2,40.2 73,40.4 71.5,41.4 70,41.5","69.3,39.5 73.5,39.4 73.8,39.7",
"36.6,36.8 38,36.8 40,36.8 42.3,37.1 44.8,37.2","44.8,37.2 44.3,39.7 43.7,40.1 43.5,41.1 41.5,41.5","41.5,41.5 43.5,41.1 45.5,41.3 46.6,41.8",
"38.8,33.4 39.3,32.2 42,31.1 44.7,29.2 46.5,29.1 48,29.9","34.9,29.5 36.1,29.2 37,31.5 38.8,32.1 39.3,32.2","55.2,22.7 55,20 52,19"].forEach(s=>line(s,SH,0.5));
// China
add("73.5,39.4 74.8,37.2 75.3,37 76,36 77.8,35.5 78.8,34.3 78.9,32.7 78.4,32.5 79.2,31.4 81,30.2 82,30 84,28.8 86,27.9 88.1,27.9 88.8,28 89.5,28.2 92,27.8 94.5,29.2 96,29.3 97.2,28.2 97.5,28.3 98.7,27.5 98.7,25.8 97.7,24.1 99.5,22.1 100.2,21.5 101.2,21.8 101.7,22.5 102.1,22.4 102.5,22.8 104,22.8 106.2,22.9 106.6,22 108,21.5 109.7,21.5 110.2,20.3 110.5,21.4 112,21.6 113.5,22.2 114.2,22.3 116.5,23 118.2,24.5 119.5,25.6 120.5,27.2 121.5,28.5 121.9,30 121.8,31 121.2,32 120.5,33.5 119.3,35 120.5,36 122.5,37.4 120.7,37.8 119,37.2 117.8,38.3 118,39 119.5,39.6 120.5,40 121.2,38.8 121.5,39 121.2,40.8 122.3,40.5 124.4,40 126,41.4 128.2,41.4 128.1,42 130.6,42.5 131.3,43 131,44.9 133.5,45.5 134.7,48.3 132.5,47.7 130.5,48.8 127.6,49.6 127,50.5 125.5,52.8 123.5,53.5 121.2,52.6 120.2,51.4 119.3,50.1 117.8,49.5 116.7,49.9 115.5,48.1 117.5,47.7 119.7,46.7 118,46.6 116,45.4 114,44.9 111.8,45.1 111,43.5 108,42.5 105,41.6 101,42.5 96.4,42.7 95.3,44.3 93.5,45 91,45.3 90.7,46.9 88.5,48.1 87.8,49.2 87.3,49.1 85.5,47 83,47.2 82.3,45.5 80.2,45 80.2,42.2 78,41.2 76.5,40.4 75.5,40.6 73.8,39.7",C7,SC);
add("108.6,19.2 110,20.1 111,19.6 110.4,18.3 109.3,18.2",C7,SC);
// Korea
add("124.4,40 125.3,39.5 124.7,38.5 125,37.7 126.1,37.8 126.8,37 126.2,35.5 126.5,34.4 128.5,35 129.3,35.5 129.4,37 128,40 129.7,41 130.7,42.3 130.6,42.5 128.1,42 128.2,41.4 126,41.4",H,SH);
line("124.7,37.9 126.7,37.9 128.4,38.6",SH,0.5);
// South Asia
add("68.4,23.6 70.3,22.9 69,22.3 70.5,20.8 72.6,21.4 72.9,21 72.8,19 73.4,16.5 74,15 74.8,12.8 75.8,11.2 76.6,9 77.5,8 78.4,8.9 79.8,10.3 80.2,13 80.3,15.8 82.3,16.6 85,19.4 86.9,20.8 87,21.5 89,21.8 90.5,22 91.8,22.5 92.3,21.4 92.6,21.3 92.6,22 93.3,24 94.6,24 94.2,25.3 95.2,26.6 96.5,27.2 97.2,28.2 96,29.3 94.5,29.2 92,27.8 92,26.9 89.8,26.8 88.9,27.3 88.8,28 88.1,27.9 88.2,26.4 86,26.6 84,27.5 83,27.4 81.5,28.4 80,28.8 81,30.2 79.2,31.4 78.4,32.5 78.9,32.7 78.8,34.3 77.8,35.5 76,36 74.5,35 74,33.5 75,32.5 74.6,31.5 74,30 73.3,29.2 72,28 70.7,27.8 69.5,26.7 70.1,25.5 71,24.4 69,24.2",C8,SC);
add("89,21.8 90.5,22 91.8,22.5 92.3,21.4 92.6,21.3 92.6,23 92.2,24.2 91.3,24 92.4,25 90,25.2 89.8,26 88.5,26.4 88.2,24.5 88.8,24.2 88.9,22.9",C7,SC);
add("80,28.8 81,30.2 82,30 84,28.8 86,27.9 88.1,27.9 88.2,26.4 86,26.6 84,27.5 83,27.4 81.5,28.4",C5,SC);
add("88.8,28 89.5,28.2 92,27.8 92,26.9 89.8,26.8 88.9,27.3",GR,SG);
add("79.8,8.1 80.2,9.8 81.3,8.5 81.8,7.2 81.3,6.2 80,6",C4,SC);
add("61.6,25.2 64.5,25.2 66.7,25.3 67.4,24 68.4,23.6 69,24.2 71,24.4 70.1,25.5 69.5,26.7 70.7,27.8 72,28 73.3,29.2 74,30 74.6,31.5 75,32.5 74,33.5 74.5,35 76,36 75.3,37 74.5,37 72.5,36.8 71.2,36 71.6,35 70.9,34 69.3,33.9 69.4,31.2 67.5,31.5 66.4,29.9 64,29.5 61.4,29.4 62.8,28.3 63.3,26.6 61.8,26.3",C4,SC);
add("61.4,29.4 64,29.5 66.4,29.9 67.5,31.5 69.4,31.2 69.3,33.9 70.9,34 71.6,35 71.2,36 72.5,36.8 74.5,37 73.5,37.4 71.5,37.9 71,38.3 70,37.5 68,37 67,37.3 65.5,37.3 64.4,36.3 62.6,35.3 61.2,35.6 60.9,34.3 60.5,33.5 60.9,31.5",C4,SC);
add("44.3,39.7 44.8,37.2 45.5,35.8 46,35 45.5,33.9 46.1,33 47.8,31.9 47.7,31 48.9,30.3 50.3,29.3 51.5,27.9 53.5,26.8 54.8,26.5 56.4,27.1 57.3,25.8 59.5,25.4 61.6,25.2 61.8,26.3 63.3,26.6 62.8,28.3 61.4,29.4 60.9,31.5 60.5,33.5 60.9,34.3 61.2,35.6 60,37.5 57.3,38 55.5,37.9 54,37.3 53.9,36.9 51.5,36.8 49,37.6 48.9,38.4 48,39 46.5,38.9",C4,SC);
// Middle East
add("43.5,41.1 45.5,41.3 46.6,41.8 47.8,41.2 48.6,41.8 49.5,40.6 50.3,40.4 49.4,40.2 48.9,38.4 48,39 46.5,38.9 44.8,39.7 43.7,40.1",C2,SC);
add("35.9,35.9 36,34.6 36.6,34.2 36,33.2 35.8,32.7 38.8,33.4 41,34.4 41.3,36.4 42.3,37.1 40,36.8 38,36.8 36.6,36.8 36.2,36.6",C2,SC);
add("35.1,33.1 35.9,34.6 36.6,34.2 36,33.2 35.8,33.3",GR,SG);
add("34.3,31.3 34.9,29.5 35.5,31 35.6,33.2 35.1,33.1",GR,SG);
add("56.4,24.9 57.8,23.7 58.8,22.9 59.8,22.3 58.5,20.4 57.8,19 56.6,18.6 55.3,17.4 53.1,16.6 52,19 55,20 55.7,22 55.2,22.7 56,24.1",GR,SG);
add("51.6,24.3 52.5,24.2 54,24.1 55.5,25.5 56.3,26.3 56.4,24.9 56,24.1 55.2,22.7 52.5,22.9",GR,SG);
add("42.7,16.3 42.8,14.8 43.5,12.6 45,12.8 48,14 49.5,14.6 52.2,15.6 53.1,16.6 52,19 49,18.6 47,17 45,17.4 43.2,17.3",C5,SC);
// SE Asia mainland
add("92.3,21.4 92.6,21.3 93.5,19.5 94.5,18 94.3,16.3 95,15.8 96,16.5 97.4,16.8 97.8,14.9 98.3,13 98.6,12 98.7,10.7 99.2,12 99.1,13.8 98.5,15 98.6,16.3 97.7,17.6 97.4,18.5 98,19.8 99,19.8 100.1,20.4 100.5,20.8 101.2,21.8 100.2,21.5 99.5,22.1 97.7,24.1 98.7,25.8 98.7,27.5 97.5,28.3 97.2,28.2 96.5,27.2 95.2,26.6 94.2,25.3 94.6,24 93.3,24 92.6,22",C5,SC);
add("98.7,10.7 98.5,9.9 98.3,8.2 99.6,6.8 100.2,6.4 101.1,5.7 101.8,5.8 102.1,6.2 101,6.9 100.4,7.3 99.8,9.2 99.2,10.3 100,13.4 100.9,13.5 100.9,12.7 102.6,12.2 102.4,13.6 103.2,14.3 105.2,14.3 105.6,15.6 104.8,16.5 104.7,17.5 103,18 102.1,18.2 101,17.5 100.6,18.5 101.2,19.5 100.4,20.4 100.1,20.4 99,19.8 98,19.8 97.4,18.5 97.7,17.6 98.6,16.3 98.5,15 99.1,13.8 99.2,12",C2,SC);
add("100.1,20.4 100.4,20.4 101.2,19.5 100.6,18.5 101,17.5 102.1,18.2 103,18 104.7,17.5 104.8,16.5 105.6,15.6 105.2,14.3 106,14.4 107.5,14.7 107.4,15.9 106.5,16.6 105.2,18.4 103.9,19.3 104.4,19.7 104.1,20.9 102.8,21.7 102.1,22.4 101.7,22.5 101.2,21.8 100.5,20.8",C5,SC);
add("102.6,12.2 103,11 104.5,10.4 105.1,10.9 106.2,11 105.8,11.6 107.5,12.3 107.5,14.7 106,14.4 105.2,14.3 103.2,14.3 102.4,13.6",GR,SG);
add("108,21.5 106.7,20.7 105.7,19 106.5,17.5 108.5,15.5 109.2,13 109.2,11.5 108,10.8 106.8,10.3 106.5,9.7 105,8.6 104.8,9.5 104.5,10.4 105.1,10.9 106.2,11 105.8,11.6 107.5,12.3 107.5,14.7 107.4,15.9 106.5,16.6 105.2,18.4 103.9,19.3 104.4,19.7 104.1,20.9 102.8,21.7 102.1,22.4 102.5,22.8 104,22.8 106.2,22.9 106.6,22",C5,SC);
add("100.2,6.4 101.1,5.7 101.8,5.8 102.1,6.2 103.4,4.8 103.5,2.8 104.2,1.5 103.5,1.3 101.3,2.8 100.5,4.5",C4,SC);
// Japan, Taiwan
["140,41.5 141.2,41.8 143.2,42 145.5,43.3 145,44.2 142,45.5 141.5,45.2 141.3,43.3 140.3,43.2 140,42.5",
"141.5,40.5 142,39.6 141,38.3 140.9,37 140.7,35.8 139.8,35 139,34.7 137.2,34.6 136.5,33.5 135.2,33.7 135,34.6 133,34.2 131,34 131,34.7 133,35.6 136,35.8 137,37 138.5,37.5 140,39.5 140,40.6 140.8,41.2",
"130,33.5 131,33.9 131.8,33 131.3,31.4 130.6,31 130.2,32.5","132.4,33 133,33.9 134.5,34.2 134.7,33.8 133.5,33.3 133,32.8",
"120.1,23 121,25.2 122,25 121.5,24 120.8,22"].forEach(s=>add(s,H,SH));
// Seas
add("46.7,44.7 47.5,45.6 48.5,46.3 49,46.4 51.2,47 53,46.8 53.2,46.3 53,45.3 51.3,45.3 50.3,44.6 51,44.5 52.5,42 52.9,41.9 53,40.8 53.9,40.6 53.6,39.3 54,37.3 53.9,36.9 51.5,36.8 49,37.6 48.9,38.4 49.4,40.2 50.3,40.4 49.5,40.6 48.6,41.8 47.5,43 47.5,44.5",W,SG,0.4);
add("27.9,42.7 28.7,44.4 29.7,45.3 30.8,46.6 31.7,46.5 33.6,46 32.5,45.4 33.5,44.5 35.3,45 36.5,45.3 37.5,44.7 38.5,44.3 40,43.4 41.6,42.6 41.5,41.5 40,41 38,41 35.5,41.7 33.5,42 31,41.1 29,41.2 28,41.9",W,SG,0.4);
add("35.5,45.5 37,46.5 38.2,47.1 39.2,47.2 38.2,46.2 37.5,45.3 36.6,45.4",W,SG,0.4);
// Maritime SE Asia
["95.3,5.6 97.5,5.2 98.7,3.7 100.5,2.1 102,1.5 103.5,0 104.5,-1.5 106,-3 105.8,-5.8 104.5,-5.9 102.3,-4 101,-2.5 100.3,-1 99,1.5 97.5,2.5 96,4.2",
"105.2,-6.8 106,-5.9 108.3,-6.3 110.5,-6.8 112.6,-6.9 114.4,-7.7 114.4,-8.7 110.5,-8.2 108,-7.8 106.5,-7.4",
"115,-8.2 116,-8.2 116.5,-8.5 119,-8.2 119,-8.8 116.8,-9 115.5,-8.8","119.8,-8.5 123,-8.3 122.8,-8.8 120,-8.9",
"123.5,-10.3 125,-9 127.3,-8.4 126.5,-9 124.5,-10","119,-9.4 120.8,-9.7 120.5,-10.3 119,-9.8",
"109,1.5 109.6,2 110.5,1.6 111.5,2.5 113,3.2 114,4.5 115.5,5.2 116.5,6.5 117.7,6.2 118.5,5 118,4.3 117.7,3.5 118,2 118.9,1 117.5,0 117.5,-1 116.5,-2.5 116,-3.8 114.5,-4 113,-3.2 111.8,-3.5 110.2,-2.9 110,-1.5 109.2,-0.5",
"119.5,-5.5 120.4,-5.5 120.4,-3 121,-2.7 121.5,-4.7 123,-4.5 122,-3 121.5,-1.8 123.3,-0.9 121,-1 120.2,0.4 121.5,0.5 123,0.4 124.5,0.4 125.1,1.6 124.3,1.1 123,0.9 121,1.1 120,0.8 119.8,0 119.5,-0.5 119,-2 119.4,-3.5",
"127.5,1.9 128.2,1.5 128.7,0.5 128,0 128.6,-0.8 127.8,-0.5 127.5,0.8","128,-3 130.5,-3 130.8,-3.8 128.5,-3.6","126,-3.3 127.2,-3.3 127,-3.8 126.1,-3.8",
"131,-1.2 132.5,-0.4 134,-0.9 135,-3.3 137,-1.6 138.5,-1.8 140.5,-2.4 141,-2.6 141,-9.1 140,-8 138.5,-8.4 137.5,-7 138,-5 136,-4.5 134.5,-4 133,-4 132,-2.8 133.5,-2.3 132,-2"].forEach(s=>add(s,C5,SC));
add("109.6,2 110.5,1.6 111.5,2.5 113,3.2 114,4.5 115.5,5.2 116.5,6.5 117.7,6.2 118.5,5 118,4.3 117.7,4.2 116,4.3 115.5,3.5 114.8,2 114,1.2 112.5,1.5 111,1 109.6,1.5",C4,SC);
["141,-2.6 143,-3.3 145,-4.4 146,-5.5 147.5,-6 147.8,-8 149,-9.5 150.8,-10.4 148,-10.2 146,-8.2 144,-7.7 143,-9 141,-9.1",
"148.5,-5.5 150.5,-5.5 152,-4.2 152.3,-5.5 150,-6.3 148.3,-6","155,-6 156,-6.5 155.8,-7 155,-6.6","159,-8 160.8,-9 160.5,-9.5 159,-8.8","160.8,-8.5 161.6,-9.5 161.3,-9.7 160.7,-8.8"].forEach(s=>add(s,H,SH));
["120.6,18.5 122.2,18.5 122.3,17 121.6,15.8 121.7,14.3 124,13.2 123.5,12.7 122.5,13.7 121,13.7 120.6,14.5 120,16 120.4,17.5",
"122,7 123.5,7.8 124,8.5 125.5,9.5 126.5,8 126,6.5 125.5,5.7 124.2,6.2 123.9,7.6 122.8,7.5",
"124.2,12.5 125.6,12.3 125.4,10.4 124.9,10 124.3,11.3","122,11.8 123.2,11.3 123.2,9.2 122.4,9.5 122,10.6",
"117.2,8.4 119.5,10.5 119.8,11.3 118.7,10","120.3,13.5 121.5,13.2 121.2,12.2 120.4,12.6","123.4,11.2 124,10.2 124.4,9.6 123.5,9.8"].forEach(s=>add(s,C7,SC));
// Oceania
add("113.5,-22 114,-26.5 115,-29.5 115,-33.6 116.5,-35 118,-35 119.9,-34 123.5,-33.9 126,-32.3 129,-31.6 131,-31.5 134,-32.8 135.5,-34.8 137.5,-33 138,-34.5 137.8,-35.6 139.5,-35.7 140.6,-38 143.5,-38.8 146.3,-39.1 148,-37.8 150,-37.5 150.2,-35.5 151.3,-33.5 152.6,-32 153.1,-30 153.6,-28.2 153,-25.2 151,-23.3 149.5,-22.4 148.7,-20.3 146.3,-18.8 145.4,-16 145.3,-14.8 143.5,-13.8 143.4,-12 142.5,-10.7 141.6,-12.5 141.6,-15 140.8,-17.4 139.2,-17.4 137.9,-16.4 135.9,-15 136.8,-13.8 136.8,-12.2 135.8,-12 134,-11.9 132.5,-11.3 131,-12.2 129.5,-14.8 128,-15 126.5,-14 125,-14.7 124,-16.3 122.3,-17.3 121.5,-19 119,-20 117,-20.6 114.7,-21.8",GR,SG);
add("144.7,-40.7 148.3,-40.9 148,-43 146.8,-43.6 145.3,-42.3",GR,SG);
add("172.7,-34.5 174.5,-36 175.8,-37 178.5,-37.7 177.9,-39.2 176.8,-40 175.2,-41.6 174.8,-39.9 173.8,-39.2 174.6,-38 174.4,-36.5",H,SH);
add("172.7,-40.5 174.3,-41.3 173.3,-43 171.2,-44.5 170.6,-45.9 169,-46.6 166.5,-46 168,-44 171,-42 172,-40.8",H,SH);
add("164,-20.2 167,-22.3 166.5,-22.4 164.2,-20.6",H,SH);
add("177.3,-17.5 178.6,-17.4 178.3,-18.2 177.4,-18",H,SH);
})();
</script>
</body></html>
